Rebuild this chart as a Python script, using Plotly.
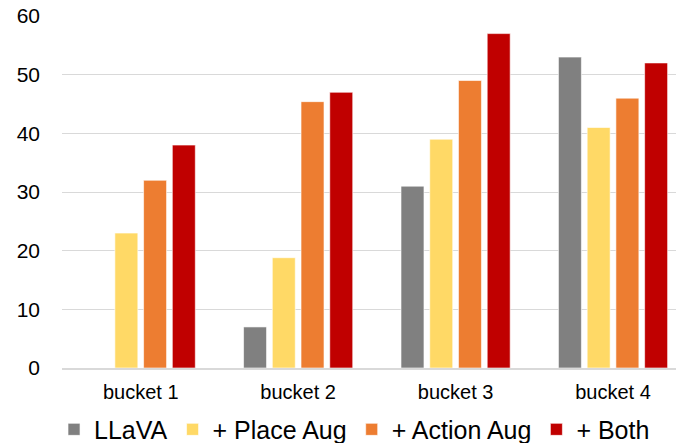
import plotly.graph_objects as go

categories = ["bucket 1", "bucket 2", "bucket 3", "bucket 4"]
series_names = ["LLaVA", "+ Place Aug", "+ Action Aug", "+ Both"]
llava = [None, 7, 31, 53]
place_aug = [23, 18.8, 39, 41]
action_aug = [32, 45.4, 49, 46]
both = [38, 47, 57, 52]
colors = ["#808080", "#FFD966", "#ED7D31", "#C00000"]

fig = go.Figure()
for name, vals, col in zip(series_names, [llava, place_aug, action_aug, both], colors):
    fig.add_trace(go.Bar(
        x=categories, y=vals, name=name,
        marker=dict(color=col, line=dict(color="rgba(255,255,255,0.6)", width=1)),
    ))

fig.update_layout(
    width=676, height=443,
    margin=dict(l=62, r=0, t=16, b=75, autoexpand=False),
    paper_bgcolor="white", plot_bgcolor="white",
    barmode="group", bargap=0.27, bargroupgap=0.2,
    font=dict(family="Liberation Sans, Arial, sans-serif", color="#000000"),
    showlegend=True,
    legend=dict(orientation="h", x=-0.013, xanchor="left", y=-0.175, yanchor="middle",
                font=dict(size=25), itemwidth=30, traceorder="normal",
                bgcolor="rgba(0,0,0,0)"),
    xaxis=dict(range=[-0.5, 3.4], showgrid=False, showline=True, linecolor="#d9d9d9",
               linewidth=1.5, ticks="", tickfont=dict(size=20), automargin=False,
               ticklabelstandoff=5),
    yaxis=dict(range=[0, 60], dtick=10, showgrid=True, gridcolor="#d9d9d9", gridwidth=1,
               showline=False, zeroline=False, ticks="", tickfont=dict(size=21),
               ticklabelstandoff=21, automargin=False),
)

fig.write_html("out.html", config={"displayModeBar": False},
               post_script="document.body.style.margin='0';document.body.style.overflow='hidden';")
